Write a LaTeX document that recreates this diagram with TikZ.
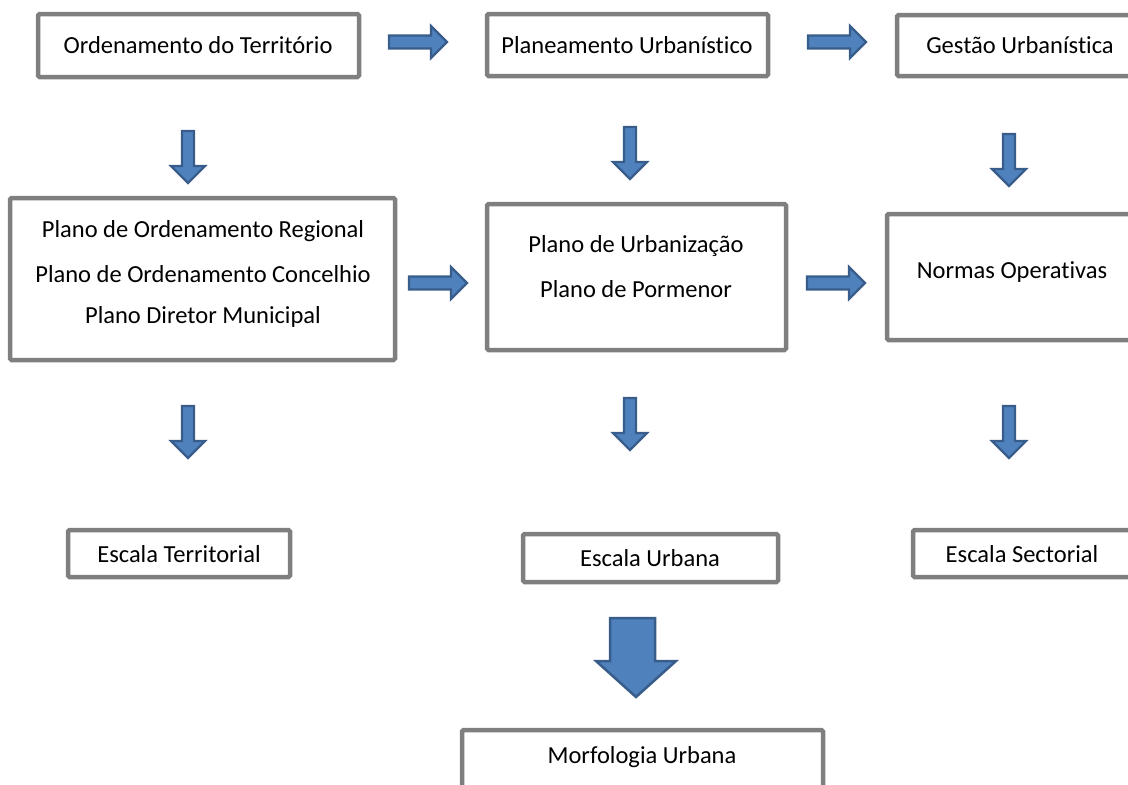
\documentclass[tikz,border=0pt]{standalone}
\usepackage{fontspec}
\setmainfont{Carlito}[RawFeature={-liga}]
\definecolor{boxgray}{HTML}{7F7F7F}
\definecolor{arrfill}{HTML}{4F81BD}
\definecolor{arrdark}{HTML}{385D8A}
\begin{document}
\begin{tikzpicture}[x=1pt,y=-1pt,
  box/.style={draw=boxgray,line width=4.5pt,rounded corners=1.5pt,fill=white},
  txt/.style={font=\fontsize{24.5}{28}\selectfont,inner sep=0pt,anchor=center},
  arr/.style={fill=arrfill,draw=arrdark,line width=2.2pt,line join=miter},
  darr/.pic={\draw[arr] (-6,0) -- (6,0) -- (6,35) -- (17,35) -- (0,52) -- (-17,35) -- (-6,35) -- cycle;},
  rarr/.pic={\draw[arr] (0,-6.5) -- (42,-6.5) -- (42,-16) -- (58,0) -- (42,16) -- (42,6.5) -- (0,6.5) -- cycle;}
]
\useasboundingbox (0,0) rectangle (1128,785);
% row 1 boxes
\draw[box] (38,14) rectangle (359,77);
\node[txt] (ot) at (198,45.5) {Ordenamento do Território};
\draw[box] (487,14) rectangle (768,76);
\node[txt] (pu) at (627,45) {Planeamento Urbanístico};
\draw[box] (897,15) rectangle (1145,76);
\node[txt] (gu) at (1020,45.5) {Gestão Urbanística};
% row 1 right arrows
\pic at (389,42) {rarr};
\pic at (808,42) {rarr};
% down arrows row 1
\pic at (188,131) {darr};
\pic at (630,127) {darr};
\pic at (1009,134) {darr};
% row 2 boxes
\draw[box] (10,198) rectangle (395,360);
\node[txt] (por) at (203,231) {Plano de Ordenamento Regional};
\node[txt] (poc) at (203,274) {Plano de Ordenamento Concelhio};
\node[txt] (pdm) at (203,317) {Plano Diretor Municipal};
\draw[box] (487,204) rectangle (786,350);
\node[txt] (pur) at (636,246) {Plano de Urbanização};
\node[txt] (ppo) at (636,289) {Plano de Pormenor};
\draw[box] (887,214) rectangle (1145,340);
\node[txt] (nop) at (1012,272) {Normas Operativas};
% row 2 right arrows
\pic at (409,283) {rarr};
\pic at (807,283) {rarr};
% down arrows row 3
\pic at (188,406) {darr};
\pic at (630,398) {darr};
\pic at (1009,406) {darr};
% row 3 boxes
\draw[box] (68,530) rectangle (290,577);
\node[txt] (et) at (179,554) {Escala Territorial};
\draw[box] (523,534) rectangle (778,582);
\node[txt] (eu) at (650,558) {Escala Urbana};
\draw[box] (913,530) rectangle (1145,577);
\node[txt] (es) at (1022,554) {Escala Sectorial};
% big arrow
\draw[fill=arrfill,draw=arrdark,line width=2.5pt] (610,618) -- (655,618) -- (655,661) -- (676,661) -- (636,697) -- (596,661) -- (610,661) -- cycle;
% bottom box
\draw[box] (462,730) rectangle (823,800);
\node[txt] (mu) at (642,757) {Morfologia Urbana};
\end{tikzpicture}
\end{document}
